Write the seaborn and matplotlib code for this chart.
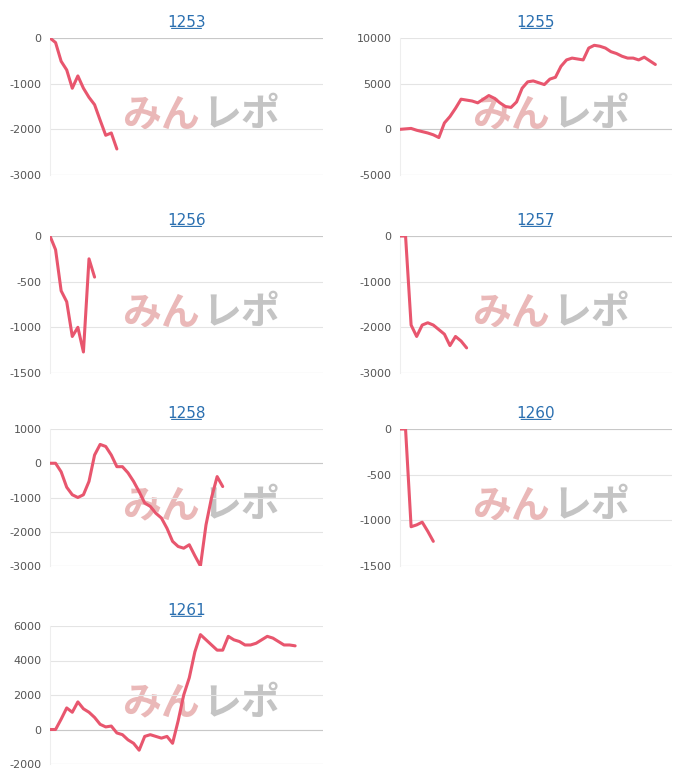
import matplotlib
matplotlib.use("Agg")
import matplotlib.pyplot as plt
import seaborn as sns
import numpy as np
import pandas as pd

titles = ["1253", "1255", "1256", "1257", "1258", "1260", "1261"]

s1253 = [0, -100, -510, -700, -1100, -830, -1100, -1300, -1460, -1800, -2130, -2080, -2430]
s1255 = [0, 50, 100, -100, -250, -400, -600, -900, 700, 1400, 2300, 3300, 3200, 3100, 2900,
         3300, 3700, 3400, 2900, 2500, 2400, 3000, 4500, 5200, 5300, 5100, 4900, 5500, 5700,
         6900, 7600, 7800, 7700, 7600, 8900, 9200, 9100, 8900, 8500, 8300, 8000, 7800, 7800,
         7600, 7900, 7500, 7100]
s1256 = [0, -150, -600, -720, -1100, -1000, -1270, -250, -450]
s1257 = [0, 0, -1950, -2200, -1950, -1900, -1950, -2050, -2150, -2400, -2200, -2300, -2450]
s1258 = [0, 0, -250, -700, -920, -1000, -920, -530, 240, 550, 490, 240, -100, -100, -280,
         -530, -830, -1160, -1260, -1460, -1600, -1900, -2280, -2430, -2480, -2380, -2700,
         -3000, -1800, -1000, -390, -680]
s1260 = [0, 0, -1070, -1050, -1020, -1120, -1230]
s1261 = [0, 0, 600, 1250, 1000, 1600, 1200, 1000, 700, 300, 150, 200, -200, -300, -600, -800,
         -1200, -400, -300, -400, -500, -400, -800, 500, 2000, 3000, 4500, 5500, 5200, 4900,
         4600, 4600, 5400, 5200, 5100, 4900, 4900, 5000, 5200, 5400, 5300, 5100, 4900, 4900, 4850]

series = [s1253, s1255, s1256, s1257, s1258, s1260, s1261]
ylims = [(-3000, 0), (-5000, 10000), (-1500, 0), (-3000, 0), (-3000, 1000), (-1500, 0), (-2000, 6000)]
ysteps = [1000, 5000, 500, 1000, 1000, 500, 2000]

sns.set_style("white")
plt.rcParams["font.family"] = ["DejaVu Sans", "Noto Sans CJK JP"]
plt.rcParams["axes.unicode_minus"] = False

W, H = 700, 784
fig = plt.figure(figsize=(W / 100, H / 100), dpi=100)

# pixel boxes (left, top, right, bottom)
cols = [(50, 323), (400, 672)]
rows = [(38, 175), (236, 373), (429, 566), (626, 764)]
line_color = "#e8566e"

for i, (name, vals) in enumerate(zip(titles, series)):
    r, c = divmod(i, 2)
    x0, x1 = cols[c]
    y0, y1 = rows[r]
    ax = fig.add_axes([x0 / W, 1 - y1 / H, (x1 - x0) / W, (y1 - y0) / H])
    df = pd.DataFrame({"x": np.arange(len(vals)), "y": vals})
    lo, hi = ylims[i]
    ax.set_xlim(0, 49)
    ax.set_ylim(lo, hi)
    ax.set_yticks(np.arange(lo, hi + 1, ysteps[i]))
    ax.yaxis.grid(True, color="#e4e4e4", lw=0.8)
    ax.axhline(0, color="#c8c8c8", lw=0.8, zorder=1)
    ax.axhline(lo, color="#dddddd", lw=0.8, zorder=1)
    ax.set_xticks([])
    for s in ["top", "right", "bottom"]:
        ax.spines[s].set_visible(False)
    ax.spines["left"].set_color("#eeeeee")
    ax.tick_params(axis="y", labelsize=8, colors="#555555", length=0, pad=6)
    # watermark
    ax.text(0.55, 0.44, "みん", transform=ax.transAxes, ha="right", va="center",
            fontsize=28, fontweight="bold", style="italic", color="#eab8b8",
            family="Noto Sans CJK JP", zorder=0)
    ax.text(0.56, 0.44, "レポ", transform=ax.transAxes, ha="left", va="center",
            fontsize=28, fontweight="bold", style="italic", color="#c4c4c4",
            family="Noto Sans CJK JP", zorder=0)
    sns.lineplot(data=df, x="x", y="y", ax=ax, color=line_color, lw=2.2, zorder=3)
    ax.set_xlabel("")
    ax.set_ylabel("")
    ax.set_title(name, fontsize=11, color="#2a6fb0", pad=8)
    # underline
    ax.annotate("", xy=(0.5 + 0.065, 1.07), xytext=(0.5 - 0.065, 1.07),
                xycoords="axes fraction", arrowprops=dict(arrowstyle="-", color="#2a6fb0", lw=0.8))

fig.savefig("out.png", dpi=100)
